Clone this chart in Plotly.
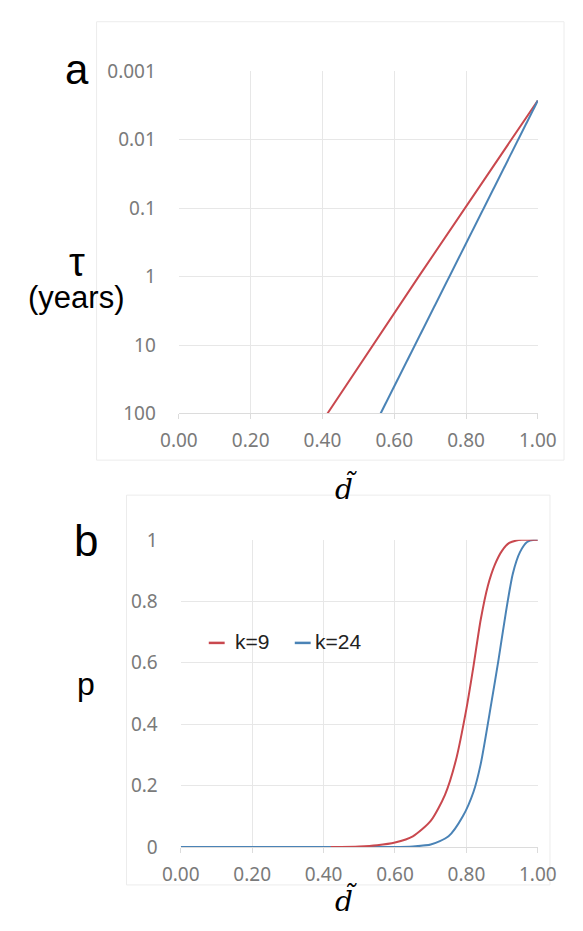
import plotly.graph_objects as go

W, H = 583, 931

# ---- Panel a data (tau vs d~, log axis) ----
a_d_k9 = [0.414, 0.668, 1.0]
a_tau_k9 = [100, 1, 0.00267]
a_d_k24 = [0.562, 0.658, 1.0]
a_tau_k24 = [100, 10, 0.00267]
a_yticks = [0.001, 0.01, 0.1, 1, 10, 100]
a_yticklabels = ["0.001", "0.01", "0.1", "1", "10", "100"]

# ---- Panel b data (p vs d~) ----
b_d_k9 = [0.42, 0.50, 0.55, 0.60, 0.65, 0.70, 0.74, 0.77, 0.80, 0.82, 0.84, 0.86, 0.88, 0.90, 0.92, 0.94, 0.955, 1.0]
b_p_k9 = [0.0, 0.002, 0.006, 0.015, 0.035, 0.085, 0.17, 0.28, 0.45, 0.59, 0.74, 0.85, 0.92, 0.965, 0.99, 0.998, 1.0, 1.0]
b_d_k24 = [0.0, 0.60, 0.65, 0.70, 0.75, 0.79, 0.82, 0.84, 0.87, 0.89, 0.91, 0.93, 0.95, 0.97, 0.99, 1.0]
b_p_k24 = [0.0, 0.0, 0.002, 0.008, 0.035, 0.10, 0.18, 0.27, 0.47, 0.61, 0.76, 0.89, 0.96, 0.993, 1.0, 1.0]
b_yticks = [0, 0.2, 0.4, 0.6, 0.8, 1]
b_yticklabels = ["0", "0.2", "0.4", "0.6", "0.8", "1"]

x_ticks = [0, 0.2, 0.4, 0.6, 0.8, 1.0]
x_ticklabels = ["0.00", "0.20", "0.40", "0.60", "0.80", "1.00"]

series_names = ["k=9", "k=24"]

RED = "#c9484e"
BLUE = "#4a83b6"
GRID = "#e7e7e7"
TICKFONT = dict(family="Noto Sans, Liberation Sans, sans-serif", size=19, color="#7a7a7a")
LABELFONT = "Liberation Sans, Arial, sans-serif"


def px(x):
    return x / W


def py(y):
    return 1 - y / H


fig = go.Figure()
fig.add_trace(go.Scatter(x=a_d_k9, y=a_tau_k9, mode="lines", line=dict(color=RED, width=2),
                         name=series_names[0], showlegend=False, xaxis="x", yaxis="y"))
fig.add_trace(go.Scatter(x=a_d_k24, y=a_tau_k24, mode="lines", line=dict(color=BLUE, width=2),
                         name=series_names[1], showlegend=False, xaxis="x", yaxis="y"))
fig.add_trace(go.Scatter(x=b_d_k24, y=b_p_k24, mode="lines",
                         line=dict(color=BLUE, width=2, shape="spline", smoothing=0.7),
                         name=series_names[1], showlegend=False, xaxis="x2", yaxis="y2"))
fig.add_trace(go.Scatter(x=b_d_k9, y=b_p_k9, mode="lines",
                         line=dict(color=RED, width=2, shape="spline", smoothing=0.7),
                         name=series_names[0], showlegend=False, xaxis="x2", yaxis="y2"))

xcommon = dict(range=[0, 1], tickvals=x_ticks, ticktext=x_ticklabels, showgrid=True,
               gridcolor=GRID, gridwidth=1, zeroline=False, showline=True, linecolor="#dcdcdc",
               ticks="outside", ticklen=5, tickcolor="#dcdcdc", tickfont=TICKFONT,
               ticklabelstandoff=5, fixedrange=True)

fig.update_layout(
    width=W, height=H,
    margin=dict(l=0, r=0, t=0, b=0),
    paper_bgcolor="white", plot_bgcolor="white",
    xaxis=dict(domain=[px(171), px(555)], anchor="y", **xcommon),
    yaxis=dict(domain=[py(412), py(60)], anchor="x", type="log", range=[2, -3],
               tickvals=a_yticks, ticktext=a_yticklabels, showgrid=True, gridcolor=GRID,
               zeroline=False, showline=False, ticks="", tickfont=TICKFONT,
               ticklabelstandoff=22),
    xaxis2=dict(domain=[px(173), px(555)], anchor="y2", **xcommon),
    yaxis2=dict(domain=[py(858), py(542)], anchor="x2", range=[0, 1],
                tickvals=b_yticks, ticktext=b_yticklabels, showgrid=True, gridcolor=GRID,
                zeroline=False, showline=False, ticks="", tickfont=TICKFONT,
                ticklabelstandoff=22),
    showlegend=False,
)

# chart area frames
fig.add_shape(type="rect", xref="paper", yref="paper", x0=px(83), x1=px(583), y0=py(460), y1=py(9),
              line=dict(color="#ececec", width=1), layer="below")
fig.add_shape(type="rect", xref="paper", yref="paper", x0=px(115), x1=px(568), y0=py(897), y1=py(496),
              line=dict(color="#ececec", width=1), layer="below")

# legend (sample line + label) for panel b
legend_items = [(series_names[0], RED, 203, 229), (series_names[1], BLUE, 295, 315)]
for name, col, lx, tx in legend_items:
    fig.add_shape(type="line", xref="paper", yref="paper", x0=px(lx), x1=px(lx + 17),
                  y0=py(648), y1=py(648), line=dict(color=col, width=2.5))
    fig.add_annotation(text=name, x=px(tx), y=py(647), xref="paper", yref="paper",
                       xanchor="left", yanchor="middle", showarrow=False,
                       font=dict(family=LABELFONT, size=21, color="#222222"))

ann = [
    dict(text="a", x=px(62), y=py(58), size=42),
    dict(text="τ", x=px(62), y=py(256), size=40),
    dict(text="(years)", x=px(61), y=py(293), size=31),
    dict(text="b", x=px(72), y=py(543), size=44),
    dict(text="p", x=px(72), y=py(690), size=32),
]
for a in ann:
    fig.add_annotation(text=a["text"], x=a["x"], y=a["y"], xref="paper", yref="paper",
                       xanchor="center", yanchor="middle", showarrow=False,
                       font=dict(family=LABELFONT, size=a["size"], color="black"))

# axis titles: italic d with combining tilde
for yy in (489, 913):
    fig.add_annotation(text="<i>d\u0303</i>", x=px(350), y=py(yy), xref="paper", yref="paper",
                       xanchor="center", yanchor="middle", showarrow=False,
                       font=dict(family="DejaVu Serif, Liberation Serif, serif", size=28, color="black"))

fig.write_html("out.html")
